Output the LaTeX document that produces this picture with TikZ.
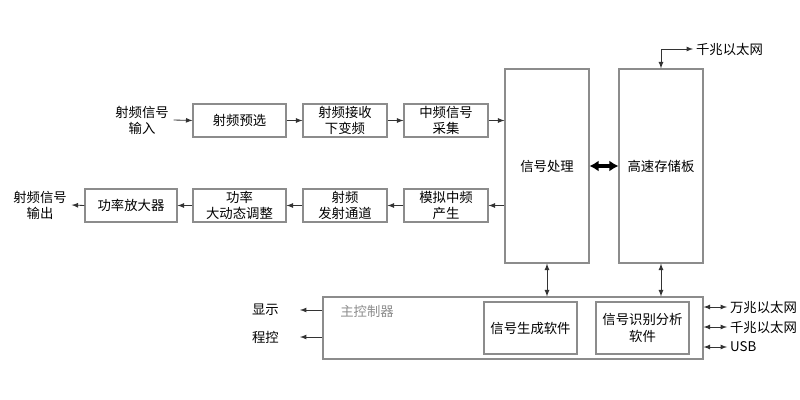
\documentclass[tikz,border=0pt]{standalone}
\usepackage{fontspec}
\setmainfont{Noto Sans CJK SC}
\usepackage{xcolor}
\usepackage{tikz}
\usetikzlibrary{arrows,arrows.meta,shapes}

\definecolor{boxgray}{gray}{0.55}
\definecolor{linegray}{gray}{0.2}

\begin{document}
\begin{tikzpicture}[x=0.025cm, y=-0.025cm,
	every node/.style={font=\fontsize{9.5pt}{11.5pt}\selectfont},
	box/.style={draw=boxgray, line width=0.8pt, align=center, inner sep=1pt, minimum height=0.825cm},
	tall/.style={box, minimum width=2.1cm, minimum height=4.85cm},
	sig/.style={draw=linegray, line width=0.6pt, -latex},
	bisig/.style={draw=linegray, line width=0.6pt, latex-latex},
	bus/.style={line width=2.2pt, {Latex[length=6.5pt,width=8pt]}-{Latex[length=6.5pt,width=8pt]}}]
	\useasboundingbox (0,0) rectangle (800,400);
	% receive chain
	\node[align=center] (rfin) at (142,120) {射频信号\\输入};%
	\node[box, minimum width=2.325cm] (yuxuan) at (239.5,120.5) {射频预选};%
	\node[box, minimum width=2.1cm] (xiabianpin) at (345,120.5) {射频接收\\下变频};%
	\node[box, minimum width=2.1cm] (caiji) at (446,120.5) {中频信号\\采集};%
	% processing and storage
	\node[tall] (chuli) at (547,166) {信号处理};%
	\node[tall] (cunchu) at (661,166) {高速存储板};%
	\coordinate (gbtop) at (693,49);
	\node[anchor=west, inner sep=2pt] (gbnet) at (gbtop) {千兆以太网};%
	% transmit chain
	\node[box, minimum width=2.1cm] (chansheng) at (446,205.5) {模拟中频\\产生};%
	\node[box, minimum width=2.1cm] (fashe) at (345,205.5) {射频\\发射通道};%
	\node[box, minimum width=2.325cm] (tiaozheng) at (239.5,205.5) {功率\\大动态调整};%
	\node[box, minimum width=2.3cm] (gongfang) at (131,205.5) {功率放大器};%
	\node[align=center] (rfout) at (40,205) {射频信号\\输出};%
	% main controller
	\node[box, minimum width=9.5cm, minimum height=1.55cm] (zhukong) at (513,328) {};%
	\node[text=boxgray] (zktitle) at (367,311) {主控制器};%
	\node[box, minimum width=2.325cm, minimum height=1.3cm] (shengcheng) at (530.5,328) {信号生成软件};%
	\node[box, minimum width=2.325cm, minimum height=1.3cm] (shibie) at (642.5,328) {信号识别分析\\软件};%
	\coordinate (xsend) at (300,310);
	\coordinate (ckend) at (300,337);
	\node[anchor=east, inner sep=0pt] (xianshi) at (279,310) {显示};%
	\node[anchor=east, inner sep=0pt] (chengkong) at (279,337) {程控};%
	\coordinate (wzend) at (727,307);
	\coordinate (qzend) at (727,327);
	\coordinate (usbend) at (727,347);
	\node[anchor=west, inner sep=2pt] (wznet) at (wzend) {万兆以太网};%
	\node[anchor=west, inner sep=2pt] (qznet) at (qzend) {千兆以太网};%
	\node[anchor=west, inner sep=2pt] (usb) at (usbend) {USB};%
	% connectors
	\draw[sig] (rfin.east) -- (yuxuan.west);
	\draw[sig] (yuxuan) -- (xiabianpin);
	\draw[sig] (xiabianpin) -- (caiji);
	\draw[sig] (caiji.east) -- (caiji.east -| chuli.west);
	\draw[sig] (chansheng.east -| chuli.west) -- (chansheng.east);
	\draw[sig] (chansheng) -- (fashe);
	\draw[sig] (fashe) -- (tiaozheng);
	\draw[sig] (tiaozheng) -- (gongfang);
	\draw[sig] (gongfang.west) -- (rfout.east);
	\draw[bus] (chuli.east) -- (cunchu.west);
	\draw[bisig] (cunchu.north) |- (gbtop);
	\draw[bisig] (chuli.south) -- (chuli.south |- zhukong.north);
	\draw[bisig] (cunchu.south) -- (cunchu.south |- zhukong.north);
	\draw[sig] (zhukong.west |- xsend) -- (xsend);
	\draw[sig] (zhukong.west |- ckend) -- (ckend);
	\draw[bisig] (zhukong.east |- wzend) -- (wzend);
	\draw[bisig] (zhukong.east |- qzend) -- (qzend);
	\draw[bisig] (zhukong.east |- usbend) -- (usbend);
\end{tikzpicture}
\end{document}
